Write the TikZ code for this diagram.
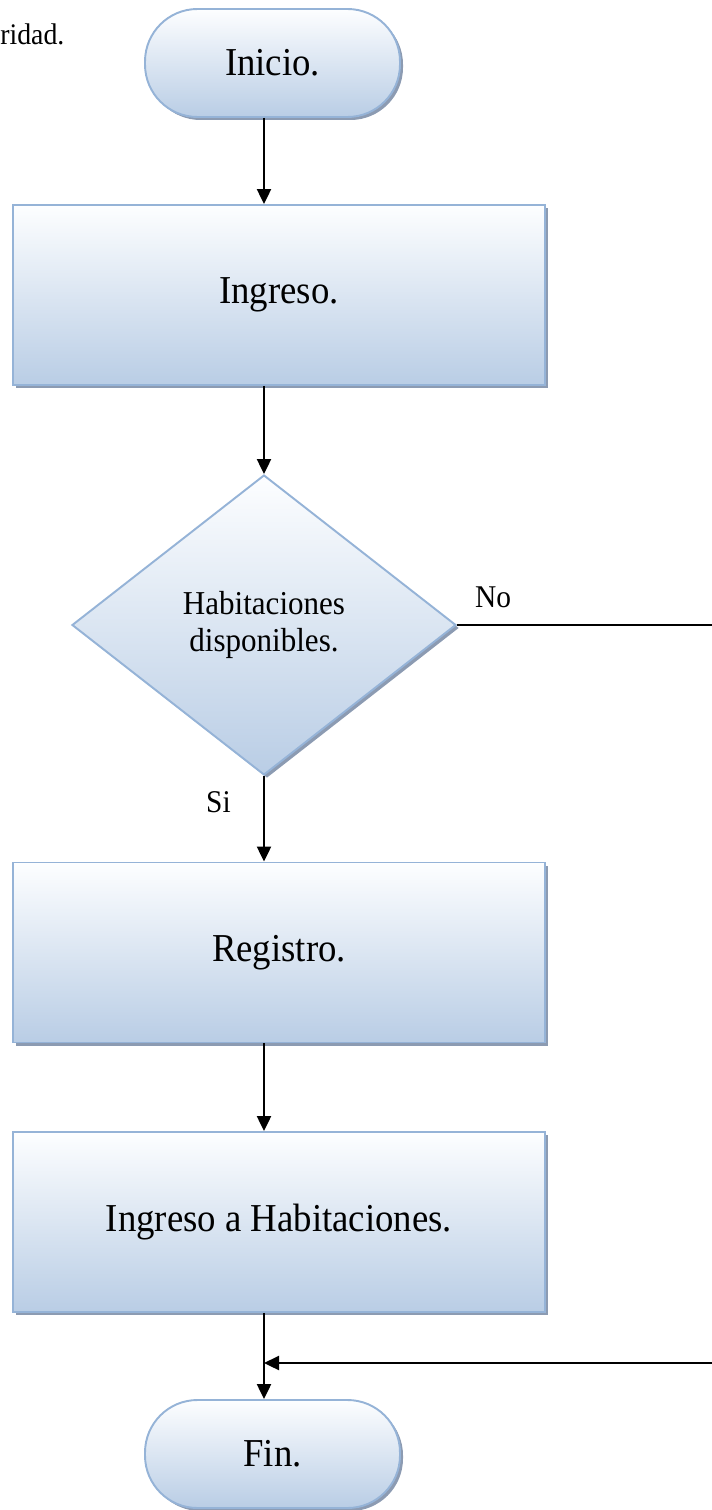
\documentclass[tikz,border=0pt]{standalone}
\usepackage{fontspec}
\setmainfont{Liberation Serif}[FakeStretch=0.93]
\usetikzlibrary{shapes.geometric,shadows,arrows.meta}
\definecolor{boxline}{RGB}{149,179,215}
\definecolor{boxtop}{RGB}{253,254,255}
\definecolor{boxbottom}{RGB}{185,205,229}
\definecolor{boxshadow}{RGB}{140,155,178}
\begin{document}
\begin{tikzpicture}[%
>={Triangle[length=0.3cm,width=0.28cm]},
% common options for the process boxes:
block/.style = {draw=boxline, line width=1.1pt, top color=boxtop, bottom color=boxbottom,
            minimum width=10.64cm, minimum height=3.6cm, align=center,
            font=\fontsize{22.5}{27}\selectfont,
            drop shadow={shadow xshift=0.06cm, shadow yshift=-0.06cm, fill=boxshadow, opacity=1}},
% start and end:
term/.style = {block, rounded corners=1.05cm, minimum width=5.1cm, minimum height=2.16cm},
% the question:
ask/.style = {block, diamond, minimum width=7.68cm, minimum height=6cm,
            font=\fontsize{19}{21.5}\selectfont},
% small texts beside the lines:
lbl/.style = {inner sep=0, font=\fontsize{18}{21}\selectfont},
flow/.style = {line width=1.3pt}]
\useasboundingbox (0,0) rectangle (14.24,-30.2);
\node[anchor=base west,inner sep=0,font=\fontsize{17}{20}\selectfont] (T0) at (0,-0.9) {ridad.};
\node[term] (inicio) at (5.45,-1.26) {Inicio.};
\node[block] (ingreso) at (5.58,-5.9) {Ingreso.};
\node[ask] (disp) at (5.28,-12.5) {Habitaciones\\disponibles.};
\node[block] (registro) at (5.58,-19.05) {Registro.};
\node[block] (habit) at (5.58,-24.44) {Ingreso a Habitaciones.};
\node[term] (fin) at (5.45,-29.08) {Fin.};
\node[lbl] (no) at (9.86,-11.95) {No};
\node[lbl] (si) at (4.37,-16.04) {Si};
\coordinate (noEnd) at (14.24,-12.5);
\coordinate (back) at (14.24,-27.26);
\draw[flow,->] (inicio.south -| disp) to (ingreso.north -| disp);
\draw[flow,->] (ingreso.south -| disp) to (disp.north);
\draw[flow] (disp.east) to (noEnd);
\draw[flow,->] (disp.south) to (registro.north -| disp);
\draw[flow,->] (registro.south -| disp) to (habit.north -| disp);
\draw[flow,->] (habit.south -| disp) to (fin.north -| disp);
\draw[flow,->] (back) to (back -| disp);
\end{tikzpicture}
\end{document}
